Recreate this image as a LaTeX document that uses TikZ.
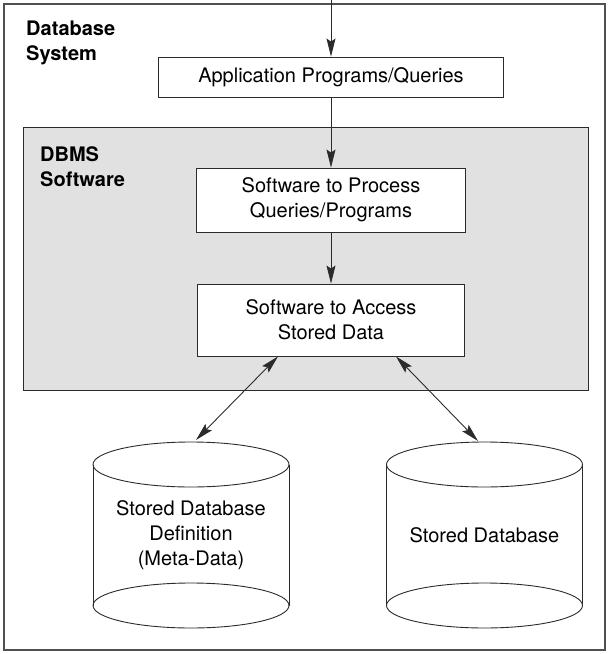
\documentclass[tikz,border=0pt]{standalone}
\usepackage{fontspec}
\setmainfont{TeX Gyre Heros}
\usepackage{xcolor}
\usepackage{tikz}
\usetikzlibrary{arrows.meta,positioning}
\definecolor{Ink}{HTML}{2B2B2B}
\definecolor{Frame}{HTML}{505050}
\definecolor{Shade}{HTML}{E1E1E1}

\begin{document}
\begin{tikzpicture}[x=1pt,y=-1pt,
b/.style={draw=Ink,fill=white,line width=0.9pt,inner sep=0pt,align=center,font=\fontsize{20}{25}\selectfont},
t/.style={inner sep=0pt,align=center,font=\fontsize{20}{25}\selectfont},
lab/.style={anchor=north west,inner sep=0pt,align=left,font=\fontsize{20}{25}\selectfont\bfseries},
a/.style={-{Stealth[length=18pt,width=9pt,inset=3pt]},line width=0.9pt,draw=Ink},
aa/.style={{Stealth[length=18pt,width=9pt,inset=3pt]}-{Stealth[length=18pt,width=9pt,inset=3pt]},line width=0.9pt,draw=Ink},
c/.style={draw=Ink,line width=0.9pt}]
\useasboundingbox (0,0) rectangle (612,654);
\draw[Frame,line width=1.2pt] (4,4) rectangle (605,650);
\node[lab] (sys) at (26,21) {Database\\System};
\draw[c,fill=Shade] (23,127) rectangle (588,390);
\node[lab] (dbms) at (40,146) {DBMS\\Software};
\node[b,minimum width=345pt,minimum height=40pt] (app) at (331,77) {Application Programs/Queries};
\node[b,minimum width=269pt,minimum height=64pt] (proc) at (331,200) {Software to Process\\Queries/Programs};
\node[b,minimum width=267pt,minimum height=72pt] (acc) at (331,320) {Software to Access\\Stored Data};
% the two stores
\foreach \x in {191,484.5}{
  \draw[c] (\x,464.5) ellipse [x radius=98,y radius=22.5];
  \draw[c] (\x,605.5) ellipse [x radius=98,y radius=22.5];
  \draw[c] (\x-98,464.5) -- (\x-98,605.5) (\x+98,464.5) -- (\x+98,605.5);
}
\node[t] (meta) at (191,535) {Stored Database\\Definition\\(Meta-Data)};
\node[t] (data) at (484.5,535) {Stored Database};
\coordinate (in) at (331,0);
\coordinate (mtop) at (196,440);
\coordinate (dtop) at (478,441);
\draw[a] (in)--(app); \draw[a] (app)--(proc); \draw[a] (proc)--(acc);
\draw[aa] ([xshift=-53pt]acc.south)--(mtop);
\draw[aa] ([xshift=65pt]acc.south)--(dtop);
\end{tikzpicture}
\end{document}
